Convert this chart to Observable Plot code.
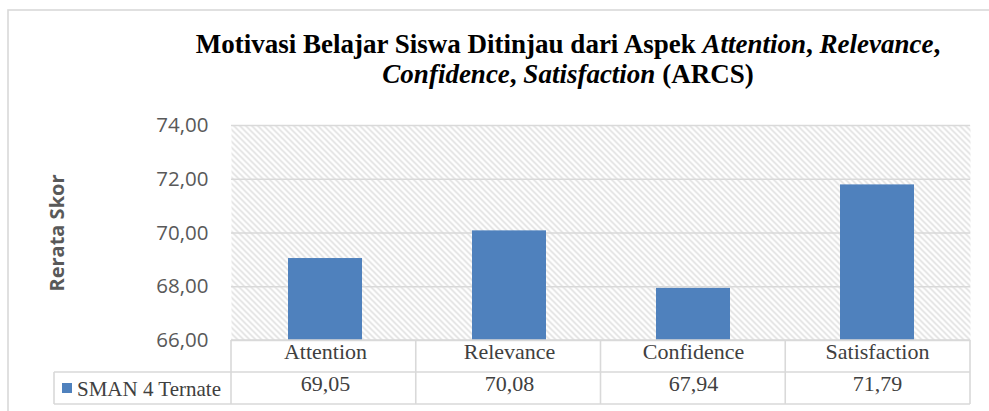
<!DOCTYPE html>
<html>
<head>
<meta charset="utf-8">
<script src="https://cdn.jsdelivr.net/npm/d3@7"></script>
<script src="https://cdn.jsdelivr.net/npm/@observablehq/plot@0.6"></script>
<style>
  html, body { margin: 0; padding: 0; background: #fff; }
  #wrap { position: relative; width: 989px; height: 411px; overflow: hidden; }
  #title { position: absolute; left: 168px; width: 800px; top: 29px; text-align: center;
           font-family: "Liberation Serif", "Times New Roman", serif; font-weight: bold;
           font-size: 27px; line-height: 30px; color: #000; white-space: nowrap; }
  #title i { font-style: italic; }
</style>
</head>
<body>
<div id="wrap">
  <div id="title"></div>
</div>
<script>
const categories = ["Attention", "Relevance", "Confidence", "Satisfaction"];
const values = [69.05, 70.08, 67.94, 71.79];
const seriesName = "SMAN 4 Ternate";
const yTicks = [66, 68, 70, 72, 74];
const yDomain = [66, 74];
const yLabel = "Rerata Skor";
const titleParts = [
  ["Motivasi Belajar Siswa Ditinjau dari Aspek ", false],
  ["Attention", true], [", ", false], ["Relevance", true], [",", false],
  ["\n", false],
  ["Confidence", true], [", ", false], ["Satisfaction", true], [" (ARCS)", false]
];

const fmt = d => d.toFixed(2).replace(".", ",");
const data = categories.map((c, i) => ({cat: c, value: values[i]}));

const W = 989, H = 411;
const mL = 231, mR = 19, mT = 125, mB = 71;
const grid = "#d9d9d9";
const ink = "#404040";
const serif = "Liberation Serif";

// title
const t = document.getElementById("title");
titleParts.forEach(([s, it]) => {
  if (s === "\n") { t.appendChild(document.createElement("br")); return; }
  const el = document.createElement(it ? "i" : "span");
  el.textContent = s;
  t.appendChild(el);
});

const chart = Plot.plot({
  width: W, height: H,
  marginLeft: mL, marginRight: mR, marginTop: mT, marginBottom: mB,
  style: {background: "transparent", overflow: "visible"},
  x: {type: "band", domain: categories, paddingInner: 0.6, paddingOuter: 0.3, axis: null},
  y: {domain: yDomain, axis: null},
  marks: [
    Plot.frame({fill: "url(#hatch)", stroke: null}),
    Plot.ruleY(yTicks, {y: d => d, stroke: grid, strokeWidth: 1.6}),
    Plot.barY(data, {x: "cat", y1: yDomain[0], y2: "value", fill: "#4F81BD"}),
    Plot.text(yTicks, {y: d => d, frameAnchor: "left", dx: -23, textAnchor: "end",
      text: fmt, fontFamily: "Open Sans", fontSize: 20.5, fill: "#595959"}),
    Plot.text([yLabel], {frameAnchor: "left", dx: -174, rotate: -90, textAnchor: "middle", text: d => d,
      fontFamily: "Open Sans", fontWeight: "bold", fontSize: 20, fill: "#595959"}),
    Plot.text(data, {x: "cat", frameAnchor: "bottom", dy: 18, text: "cat",
      fontFamily: serif, fontSize: 22, fill: ink}),
    Plot.text(data, {x: "cat", frameAnchor: "bottom", dy: 50, text: d => fmt(d.value),
      fontFamily: serif, fontSize: 22, fill: ink})
  ]
});

const svg = d3.select(chart);
const defs = svg.insert("defs", ":first-child");
const pat = defs.append("pattern").attr("id", "hatch").attr("patternUnits", "userSpaceOnUse")
  .attr("width", 6).attr("height", 6);
pat.append("rect").attr("width", 6).attr("height", 6).attr("fill", "#fff");
pat.append("path").attr("d", "M-1,-1 L7,7 M-1,5 L1,7 M5,-1 L7,1")
  .attr("stroke", "#dcdcdc").attr("stroke-width", 1.5);

// outer border
svg.append("rect").attr("x", 8).attr("y", 10).attr("width", 1200).attr("height", 600)
  .attr("fill", "none").attr("stroke", grid).attr("stroke-width", 1.6);

// table borders
const plotBottom = H - mB;
const rowH = 32;
const step = (W - mL - mR) / categories.length;
const tableLeft = 54;
const g = svg.append("g").attr("stroke", grid).attr("stroke-width", 1.6).attr("fill", "none");
g.append("line").attr("x1", mL).attr("x2", W - mR).attr("y1", plotBottom).attr("y2", plotBottom);
[1, 2].forEach(r => g.append("line").attr("x1", tableLeft).attr("x2", W - mR)
  .attr("y1", plotBottom + r * rowH).attr("y2", plotBottom + r * rowH));
d3.range(categories.length + 1).forEach(i => g.append("line")
  .attr("x1", mL + i * step).attr("x2", mL + i * step)
  .attr("y1", plotBottom).attr("y2", plotBottom + 2 * rowH));
g.append("line").attr("x1", tableLeft).attr("x2", tableLeft)
  .attr("y1", plotBottom + rowH).attr("y2", plotBottom + 2 * rowH);

// legend key
const ly = plotBottom + rowH * 1.5;
svg.append("rect").attr("x", 62).attr("y", ly - 5).attr("width", 10).attr("height", 10).attr("fill", "#4F81BD");
svg.append("text").attr("x", 77).attr("y", ly).attr("dy", "0.38em").attr("text-anchor", "start")
  .text(seriesName)
  .attr("font-family", serif).attr("font-size", 21).attr("fill", ink);

document.getElementById("wrap").insertBefore(chart, document.getElementById("title"));
</script>
</body>
</html>
